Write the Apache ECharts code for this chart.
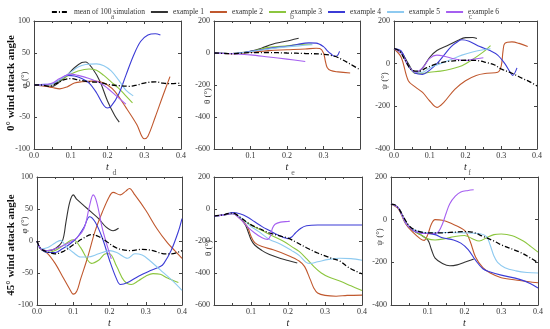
<!DOCTYPE html>
<html><head><meta charset="utf-8">
<script src="https://cdn.jsdelivr.net/npm/echarts@6/dist/echarts.min.js"></script>
<style>html,body{margin:0;padding:0;background:#fff}#c{width:550px;height:329px}</style>
</head><body><div id="c"></div><script>
// ---------- data ----------
const seriesNames = ['mean of 100 simulation','example 1','example 2','example 3','example 4','example 5','example 6'];
const panelLetters = ['a','b','c','d','e','f'];
const rowLabels = ['0° wind attack angle','45° wind attack angle'];
const yNames = ['φ (°)','θ (°)','ψ (°)','φ (°)','θ (°)','ψ (°)'];

// panel a : phi, 0 deg
const a_mean=[[0,0],[0.02,0],[0.04,-2],[0.06,2],[0.08,8],[0.1,10],[0.12,8],[0.15,5],[0.18,4],[0.2,1],[0.23,-1],[0.26,-2],[0.28,0],[0.3,3],[0.33,5],[0.35,3],[0.37,2],[0.4,3]];
const a_ex1=[[0,0],[0.03,-1],[0.05,-2],[0.07,5],[0.09,15],[0.11,27],[0.13,35],[0.14,36],[0.16,25],[0.18,5],[0.2,-25],[0.22,-48],[0.232,-58]];
const a_ex2=[[0,0],[0.03,-2],[0.05,-4],[0.07,-6],[0.09,-3],[0.11,3],[0.13,5],[0.16,6],[0.18,5],[0.2,0],[0.22,-10],[0.25,-35],[0.28,-62],[0.3,-84],[0.31,-80],[0.33,-50],[0.35,-18],[0.37,13]];
const a_ex3=[[0,0],[0.03,0],[0.05,2],[0.08,10],[0.1,17],[0.12,22],[0.15,25],[0.17,23],[0.19,15],[0.21,5],[0.23,-5],[0.25,-17],[0.268,-28]];
const a_ex4=[[0,0],[0.03,1],[0.05,2],[0.07,8],[0.09,15],[0.11,14],[0.13,10],[0.15,3],[0.17,-12],[0.19,-32],[0.2,-36],[0.21,-33],[0.23,-15],[0.25,15],[0.27,45],[0.29,68],[0.31,78],[0.33,80],[0.344,78]];
const a_ex5=[[0,0],[0.03,0],[0.05,2],[0.08,12],[0.1,20],[0.12,28],[0.14,32],[0.17,33],[0.19,30],[0.21,22],[0.23,8],[0.25,-8],[0.27,-17]];
const a_ex6=[[0,0],[0.03,0],[0.05,3],[0.07,10],[0.1,17],[0.12,15],[0.15,10],[0.18,3],[0.2,-5],[0.22,-15],[0.25,-30]];

// panel b : theta, 0 deg
const b_mean=[[0,0],[0.03,-3],[0.05,-5],[0.08,0],[0.1,2],[0.15,3],[0.2,0],[0.25,-3],[0.3,-8],[0.33,-20],[0.35,-40],[0.37,-65],[0.4,-105]];
const b_ex1=[[0,0],[0.05,-3],[0.08,2],[0.1,10],[0.13,30],[0.16,55],[0.19,70],[0.21,80],[0.232,92]];
const b_ex2=[[0,0],[0.05,-5],[0.1,5],[0.15,15],[0.2,20],[0.25,25],[0.28,30],[0.29,28],[0.3,0],[0.305,-50],[0.31,-90],[0.32,-110],[0.34,-118],[0.373,-125]];
const b_ex3=[[0,0],[0.05,-3],[0.1,10],[0.15,35],[0.2,45],[0.25,55],[0.268,55]];
const b_ex4=[[0,0],[0.05,-3],[0.08,3],[0.1,10],[0.13,20],[0.16,32],[0.2,42],[0.23,55],[0.26,63],[0.28,62],[0.3,40],[0.31,15],[0.32,-5],[0.33,-20],[0.337,-18],[0.344,10]];
const b_ex5=[[0,0],[0.05,-3],[0.1,8],[0.15,25],[0.2,38],[0.25,48],[0.27,52]];
const b_ex6=[[0,0],[0.05,-5],[0.1,-12],[0.15,-25],[0.2,-38],[0.25,-53]];

// panel c : psi, 0 deg
const c_mean=[[0,70],[0.015,60],[0.03,20],[0.05,-30],[0.07,-35],[0.09,-20],[0.12,0],[0.15,10],[0.2,16],[0.23,15],[0.26,5],[0.28,-5],[0.3,-25],[0.33,-45],[0.36,-70],[0.38,-85],[0.4,-105]];
const c_ex1=[[0,70],[0.02,55],[0.04,0],[0.06,-45],[0.08,-20],[0.1,30],[0.12,62],[0.15,85],[0.18,110],[0.2,122],[0.22,123],[0.232,118]];
const c_ex2=[[0,70],[0.02,30],[0.04,-80],[0.06,-110],[0.08,-135],[0.1,-175],[0.12,-205],[0.14,-180],[0.17,-120],[0.2,-80],[0.23,-55],[0.26,-45],[0.29,-40],[0.3,-10],[0.305,60],[0.31,95],[0.33,102],[0.35,95],[0.374,80]];
const c_ex3=[[0,70],[0.02,50],[0.04,-10],[0.06,-45],[0.08,-45],[0.1,-40],[0.13,-35],[0.16,-25],[0.19,-10],[0.22,20],[0.25,55],[0.27,85]];
const c_ex4=[[0,70],[0.02,60],[0.04,-10],[0.06,-45],[0.08,-50],[0.1,-30],[0.12,0],[0.14,40],[0.16,80],[0.18,105],[0.19,112],[0.21,105],[0.24,80],[0.27,60],[0.29,40],[0.31,0],[0.325,-40],[0.332,-55],[0.344,-20]];
const c_ex5=[[0,70],[0.02,50],[0.04,-10],[0.06,-40],[0.08,-40],[0.1,-20],[0.13,0],[0.16,20],[0.19,40],[0.22,55],[0.25,65],[0.27,70]];
const c_ex6=[[0,70],[0.02,50],[0.04,-10],[0.06,-40],[0.08,-20],[0.1,25],[0.12,40],[0.14,35],[0.17,22],[0.2,15],[0.22,20],[0.25,28]];

// panel d : phi, 45 deg
const d_mean=[[0,0],[0.01,-12],[0.03,-17],[0.05,-20],[0.07,-17],[0.09,-10],[0.11,-2],[0.13,5],[0.15,10],[0.17,7],[0.19,0],[0.21,-8],[0.23,-13],[0.26,-15],[0.29,-13],[0.32,-15],[0.35,-20],[0.37,-20],[0.4,-15]];
const d_ex1=[[0,0],[0.01,-12],[0.03,-15],[0.05,-12],[0.07,0],[0.08,30],[0.09,60],[0.1,72],[0.11,65],[0.13,55],[0.15,45],[0.17,35],[0.19,22],[0.21,16],[0.225,20]];
const d_ex2=[[0,0],[0.01,-12],[0.03,-20],[0.05,-35],[0.07,-55],[0.09,-75],[0.1,-83],[0.11,-78],[0.12,-60],[0.14,-25],[0.16,15],[0.18,45],[0.2,70],[0.21,76],[0.23,72],[0.245,78],[0.255,82],[0.27,72],[0.3,48],[0.33,20],[0.36,-3],[0.38,-15],[0.4,-27]];
const d_ex3=[[0,0],[0.01,-12],[0.03,-18],[0.05,-15],[0.07,-8],[0.09,0],[0.1,2],[0.12,-10],[0.14,-30],[0.15,-35],[0.17,-30],[0.19,-20],[0.2,-20],[0.22,-40],[0.24,-62],[0.26,-68],[0.28,-62],[0.3,-55],[0.32,-51],[0.34,-52],[0.36,-58],[0.39,-65]];
const d_ex4=[[0,0],[0.01,-12],[0.03,-18],[0.05,-18],[0.07,-12],[0.09,-5],[0.11,5],[0.13,22],[0.145,38],[0.16,30],[0.18,5],[0.2,-30],[0.22,-60],[0.23,-68],[0.25,-65],[0.28,-55],[0.31,-47],[0.34,-40],[0.35,-35],[0.37,-15],[0.39,15],[0.4,35]];
const d_ex5=[[0,0],[0.01,-12],[0.03,-10],[0.05,-3],[0.065,1],[0.08,-8],[0.1,-18],[0.12,-25],[0.14,-25],[0.17,-20],[0.2,-15],[0.22,-18],[0.25,-27],[0.27,-20],[0.29,-22],[0.31,-30],[0.34,-45],[0.37,-60],[0.4,-77]];
const d_ex6=[[0,0],[0.01,-12],[0.03,-15],[0.05,-12],[0.08,-5],[0.11,5],[0.13,20],[0.145,55],[0.155,72],[0.165,60],[0.18,20],[0.195,-10],[0.205,-28]];

// panel e : theta, 45 deg
const e_mean=[[0,-45],[0.02,-38],[0.04,-28],[0.05,-25],[0.07,-50],[0.09,-85],[0.11,-110],[0.13,-130],[0.15,-150],[0.18,-170],[0.2,-182],[0.22,-205],[0.25,-242],[0.28,-275],[0.3,-293],[0.32,-310],[0.34,-325],[0.36,-360],[0.38,-385],[0.4,-405]];
const e_ex1=[[0,-45],[0.03,-35],[0.05,-28],[0.07,-55],[0.085,-100],[0.1,-190],[0.11,-225],[0.13,-260],[0.15,-285],[0.18,-310],[0.2,-322],[0.225,-338]];
const e_ex2=[[0,-45],[0.03,-35],[0.05,-28],[0.07,-60],[0.09,-110],[0.1,-170],[0.11,-210],[0.13,-235],[0.16,-255],[0.2,-290],[0.23,-325],[0.245,-360],[0.26,-440],[0.27,-495],[0.28,-525],[0.3,-540],[0.33,-545],[0.36,-540],[0.4,-538]];
const e_ex3=[[0,-45],[0.03,-35],[0.05,-30],[0.08,-70],[0.1,-100],[0.13,-135],[0.16,-170],[0.19,-205],[0.21,-235],[0.23,-265],[0.25,-310],[0.27,-360],[0.29,-400],[0.31,-425],[0.34,-450],[0.37,-480],[0.4,-510]];
const e_ex4=[[0,-45],[0.03,-35],[0.05,-22],[0.07,-30],[0.09,-50],[0.11,-80],[0.13,-110],[0.15,-135],[0.17,-160],[0.19,-180],[0.2,-185],[0.21,-175],[0.22,-150],[0.235,-120],[0.25,-105],[0.28,-100],[0.32,-100],[0.36,-100],[0.4,-100]];
const e_ex5=[[0,-45],[0.03,-35],[0.05,-30],[0.08,-70],[0.1,-110],[0.12,-140],[0.15,-190],[0.18,-220],[0.21,-260],[0.23,-290],[0.25,-335],[0.26,-340],[0.28,-330],[0.31,-315],[0.34,-308],[0.37,-310],[0.4,-320]];
const e_ex6=[[0,-45],[0.03,-35],[0.05,-30],[0.07,-60],[0.09,-110],[0.11,-150],[0.13,-180],[0.145,-190],[0.152,-170],[0.158,-120],[0.165,-95],[0.18,-82],[0.2,-78],[0.205,-77]];

// panel f : psi, 45 deg
const f_mean=[[0,73],[0.01,70],[0.02,55],[0.03,25],[0.04,-5],[0.05,-30],[0.07,-52],[0.1,-62],[0.13,-62],[0.16,-60],[0.2,-56],[0.22,-58],[0.25,-78],[0.28,-100],[0.3,-118],[0.35,-152],[0.38,-180],[0.4,-202]];
const f_ex1=[[0,73],[0.02,55],[0.04,-10],[0.06,-50],[0.08,-70],[0.1,-95],[0.11,-140],[0.12,-180],[0.14,-205],[0.16,-216],[0.18,-212],[0.2,-200],[0.22,-188],[0.225,-185]];
const f_ex2=[[0,73],[0.02,50],[0.04,-20],[0.06,-60],[0.08,-90],[0.09,-97],[0.1,-70],[0.11,-20],[0.12,0],[0.14,-3],[0.16,-15],[0.2,-50],[0.215,-100],[0.23,-175],[0.25,-225],[0.27,-250],[0.3,-272],[0.35,-285],[0.4,-296]];
const f_ex3=[[0,73],[0.02,55],[0.04,-15],[0.06,-50],[0.08,-70],[0.1,-90],[0.12,-95],[0.15,-88],[0.17,-80],[0.2,-74],[0.22,-88],[0.24,-100],[0.26,-85],[0.28,-70],[0.3,-67],[0.33,-75],[0.36,-100],[0.38,-125],[0.4,-152]];
const f_ex4=[[0,73],[0.02,55],[0.04,-15],[0.06,-50],[0.08,-62],[0.1,-65],[0.12,-70],[0.14,-85],[0.17,-95],[0.19,-110],[0.21,-140],[0.23,-190],[0.25,-230],[0.27,-245],[0.3,-260],[0.35,-280],[0.38,-300],[0.4,-320]];
const f_ex5=[[0,73],[0.02,55],[0.04,-15],[0.06,-45],[0.09,-60],[0.12,-62],[0.15,-60],[0.2,-62],[0.24,-65],[0.26,-80],[0.27,-120],[0.28,-170],[0.29,-200],[0.31,-225],[0.34,-240],[0.37,-248],[0.4,-250]];
const f_ex6=[[0,73],[0.02,55],[0.04,-15],[0.06,-50],[0.08,-62],[0.1,-65],[0.12,-65],[0.13,-55],[0.14,-20],[0.15,30],[0.16,75],[0.175,110],[0.19,130],[0.21,137],[0.225,140]];

const panelData = [
  [a_mean,a_ex1,a_ex2,a_ex3,a_ex4,a_ex5,a_ex6],
  [b_mean,b_ex1,b_ex2,b_ex3,b_ex4,b_ex5,b_ex6],
  [c_mean,c_ex1,c_ex2,c_ex3,c_ex4,c_ex5,c_ex6],
  [d_mean,d_ex1,d_ex2,d_ex3,d_ex4,d_ex5,d_ex6],
  [e_mean,e_ex1,e_ex2,e_ex3,e_ex4,e_ex5,e_ex6],
  [f_mean,f_ex1,f_ex2,f_ex3,f_ex4,f_ex5,f_ex6]
];
const yRanges = [[-100,100,50],[-600,200,200],[-400,200,200],[-100,100,50],[-600,200,200],[-400,200,200]];
const hiddenX = [[],[0,0.4],[],[],[0],[0]];

// ---------- layout / style ----------
const grids = [
  {left:34,top:21,width:147,height:128},
  {left:214,top:21,width:146,height:128},
  {left:394,top:21,width:143,height:128},
  {left:37,top:177,width:145,height:130},
  {left:214,top:177,width:148,height:130},
  {left:391,top:177,width:147,height:130}
];
const yNamePos = [[25,80],[208,96],[385,81],[25,225],[209,248],[380,237]];
const colors = ['#000000','#333333','#c0582e','#8cc63f','#3b3bd6','#8ecaf0','#a55ff0'];
const SERIF = '"Liberation Serif","DejaVu Serif",serif';
const axisCol = '#444';

const xAxes=[], yAxes=[], series=[], titles=[], graphics=[];
grids.forEach((g,i)=>{
  const [ymin,ymax,yint]=yRanges[i];
  const hid = hiddenX[i];
  xAxes.push({type:'value',gridIndex:i,min:0,max:0.4,interval:0.1,position:'bottom',
    name:'t',nameLocation:'middle',nameGap:13,
    nameTextStyle:{fontFamily:SERIF,fontStyle:'italic',fontSize:10,color:'#222'},
    axisLine:{show:true,onZero:false,lineStyle:{color:axisCol,width:1}},
    axisTick:{inside:true,length:3,lineStyle:{color:axisCol}},
    minorTick:{show:true,splitNumber:2,length:2,lineStyle:{color:axisCol}},
    splitLine:{show:false},
    axisLabel:{fontFamily:SERIF,fontSize:8,color:'#333',margin:3,showMinLabel:true,showMaxLabel:true,
      formatter:v=>hid.some(h=>Math.abs(h-v)<1e-9)?'':v.toFixed(1)}});
  xAxes.push({type:'value',gridIndex:i,min:0,max:0.4,interval:0.1,position:'top',
    axisLine:{show:true,onZero:false,lineStyle:{color:axisCol,width:1}},
    axisTick:{inside:true,length:3,lineStyle:{color:axisCol}},
    minorTick:{show:true,splitNumber:2,length:2,lineStyle:{color:axisCol}},
    splitLine:{show:false},axisLabel:{show:false}});
  yAxes.push({type:'value',gridIndex:i,min:ymin,max:ymax,interval:yint,position:'left',
    axisLine:{show:true,onZero:false,lineStyle:{color:axisCol,width:1}},
    axisTick:{inside:true,length:3,lineStyle:{color:axisCol}},
    splitLine:{show:false},
    axisLabel:{fontFamily:SERIF,fontSize:8,color:'#333',margin:4,showMinLabel:true,showMaxLabel:true}});
  yAxes.push({type:'value',gridIndex:i,min:ymin,max:ymax,interval:yint,position:'right',
    axisLine:{show:true,onZero:false,lineStyle:{color:axisCol,width:1}},
    axisTick:{inside:true,length:3,lineStyle:{color:axisCol}},
    splitLine:{show:false},axisLabel:{show:false}});
  titles.push({text:panelLetters[i],left:g.left+g.width/2,top:g.top-13,textAlign:'center',
    textStyle:{fontFamily:SERIF,fontSize:8,fontWeight:'normal',color:'#666'}});
  graphics.push({type:'text',x:yNamePos[i][0],y:yNamePos[i][1],rotation:Math.PI/2,
    style:{text:yNames[i],font:'9px '+SERIF,fill:'#333',align:'center',verticalAlign:'middle'}});
  const data = panelData[i];
  // examples first, mean on top
  [1,2,3,4,5,6,0].forEach(k=>{
    series.push({type:'line',name:seriesNames[k],xAxisIndex:i*2,yAxisIndex:i*2,
      data:data[k],smooth:0.35,symbol:'none',silent:true,z:k===0?5:3,
      lineStyle:{color:colors[k],width:k===0?1.3:1.1,type:k===0?[5,2,1,2]:'solid'},
      itemStyle:{color:colors[k]}});
  });
});
graphics.push({type:'text',x:11,y:83,rotation:Math.PI/2,
  style:{text:rowLabels[0],font:'bold 11px '+SERIF,fill:'#111',align:'center',verticalAlign:'middle'}});
graphics.push({type:'text',x:11,y:245,rotation:Math.PI/2,
  style:{text:rowLabels[1],font:'bold 11px '+SERIF,fill:'#111',align:'center',verticalAlign:'middle'}});

const chart = echarts.init(document.getElementById('c'),null,{renderer:'canvas'});
chart.setOption({
  animation:false,
  backgroundColor:'#fff',
  title:titles,
  legend:{data:seriesNames,top:3,left:'center',itemWidth:17,itemHeight:8,itemGap:5,
    itemStyle:{opacity:0},
    textStyle:{fontFamily:SERIF,fontSize:7.5,color:'#333'}},
  grid:grids,
  xAxis:xAxes,
  yAxis:yAxes,
  series:series,
  graphic:graphics
});
</script></body></html>
